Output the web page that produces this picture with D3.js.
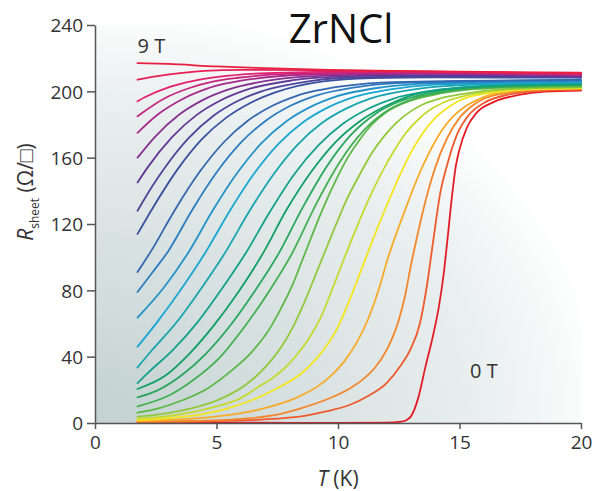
<!DOCTYPE html>
<html>
<head>
<meta charset="utf-8">
<script src="https://cdn.jsdelivr.net/npm/d3@7"></script>
<style>
  body { margin: 0; background: #fff; }
  svg { display: block; }
</style>
</head>
<body>
<div id="chart"></div>
<script>
// tick values
const xTicks = [0, 5, 10, 15, 20];
const yTicks = [0, 40, 80, 120, 160, 200, 240];

// field labels at the two ends of the family
const fieldLabels = ["0 T", "9 T"];

// R_sheet (ohm/sq) vs T (K), one curve per field, from 0 T (first) up to 9 T (last)
const curves = [
  [[1.75,0.3],[4,0.2],[8,0.1],[10,0],[12,0.2],[12.6,0.8],[12.85,2],[13.0,4],[13.3,15],[13.6,34],[13.9,52],[14.15,70],[14.35,90],[14.5,110],[14.7,138],[14.85,155],[15.0,165],[15.3,178],[15.7,187],[16.4,193.5],[17.5,198],[18.5,199.8],[20,200.5]],
  [[1.75,0.6],[4,0.9],[6,1.6],[7.5,2.6],[8.4,3.8],[9.5,7],[10.5,11],[11.2,16],[12,24],[12.55,34],[13,45],[13.37,60],[13.65,82],[13.92,110],[14.2,138],[14.5,156],[14.9,174],[15.4,186],[16,193],[17,198],[18.5,200.5],[20,201]],
  [[1.75,0.8],[4,1.2],[6,2.5],[7.5,5],[8.5,9],[9.5,14],[10.5,21],[11,26],[11.5,33],[12,44],[12.5,62],[12.75,76],[13,95],[13.25,112],[13.5,128],[13.75,142],[14,154],[14.5,172],[15,184],[15.5,191],[16,195.5],[17,199.1],[18.5,201],[20,201.3]],
  [[1.75,1.2],[3,1.8],[4.75,3.5],[6.25,6.5],[7.25,10],[8.25,15],[8.75,18.5],[9.25,23],[9.75,29],[10.25,37],[10.75,48],[11.25,63],[11.75,84],[12,97],[12.25,108],[12.75,128],[13.25,147],[13.75,163],[14.25,176],[14.75,185],[15.25,191],[15.75,195],[16.75,199.5],[18.25,201.2],[20,201.6]],
  [[1.75,1.8],[3,3],[4.5,5.5],[5.5,9],[6.5,14],[7.5,21],[8,25],[8.5,30],[9,37],[9.5,46],[10,58],[10.5,75],[11,94],[11.5,113],[12,131],[12.5,148],[13,163],[13.5,175],[14,184],[14.5,190],[15,194.5],[16,198.5],[17,200.3],[18.5,201.5],[20,201.9]],
  [[1.75,2.6],[3,4.2],[4,6.5],[5,10],[6,15],[6.8,22.5],[7.3,27],[7.8,33],[8.3,41],[8.8,51],[9.3,64],[9.8,82],[10.3,101],[10.8,119],[11.3,136],[11.8,151],[12.3,164],[12.8,175],[13.3,183],[13.8,189],[14.3,193],[15.3,197.5],[16.3,200],[18,201.7],[20,202.2]],
  [[1.75,3.8],[3,6],[4,9],[5,13.5],[5.65,18],[6.15,22.5],[6.65,28.5],[7.15,36],[7.65,45.5],[8.15,58],[8.65,74],[9.15,92],[9.4,101],[9.9,119],[10.4,136],[10.9,150],[11.4,163],[11.9,173],[12.4,181],[12.9,187],[13.4,191.5],[14.15,195.5],[15.15,198.5],[17,201.5],[20,202.6]],
  [[1.75,6.2],[2.65,9],[3.65,14],[4.65,21],[5.65,32],[6.4,42],[7.15,56],[7.65,69],[8.15,84],[8.5,97],[8.9,112],[9.4,130],[9.9,146],[10.4,160],[10.9,171],[11.4,180],[11.9,186.5],[12.65,192.5],[13.65,197],[15,200.5],[17,202.3],[20,203]],
  [[1.75,10],[3.1,17],[4.1,26.5],[5.1,39],[6.1,57],[7.1,78],[8.1,102],[9.1,132],[10.1,158],[11.1,177],[12.1,189],[13.1,195.5],[14.1,199],[16.1,202.3],[20,203.6]],
  [[1.75,15.5],[2.55,19.5],[3.55,28.6],[4.55,41.6],[5.55,58.5],[6.55,79],[7.55,102],[8.55,130],[9.55,155],[10.55,174],[11.55,186.5],[12.55,194],[13.55,198.3],[15.55,202.3],[20,204]],
  [[1.75,20.5],[2.9,28.6],[3.9,42],[4.9,59],[5.9,79],[6.9,102],[7.9,129],[8.9,151.5],[9.9,169.4],[10.9,182],[11.9,190.7],[12.9,197],[14.9,202],[17,203.8],[20,204.4]],
  [[1.75,24],[2.2,30.5],[3.2,44],[4.2,60.4],[5.2,80.5],[6.2,102.4],[7.2,127.4],[8.2,150],[9.2,167.5],[10.2,180.4],[11.2,189.2],[12.2,195.2],[14.2,201.1],[16.2,203.4],[20,204.8]],
  [[1.75,33.5],[2.35,44],[3.35,60.6],[4.35,80.7],[5.35,102.6],[6.35,127.7],[7.35,150],[8.35,168],[9.35,181],[10.35,189.7],[11.35,195.7],[13.35,201.6],[15.35,203.9],[20,205.3]],
  [[1.75,46],[2.55,60.7],[3.55,80.8],[4.55,103],[5.55,128],[6.55,150.4],[7.55,168.3],[8.55,181.2],[9.55,190],[10.55,196],[12.55,202],[14.55,204.3],[20,205.7]],
  [[1.75,63.5],[2.85,82],[3.85,103],[4.85,128.3],[5.85,150.7],[6.85,168.7],[7.85,181.7],[8.85,190.5],[9.85,196.5],[11.85,202.5],[13.85,204.8],[20,206.2]],
  [[1.75,79],[2.4,91.5],[3.0,103.3],[4,128.5],[5,151],[6,169],[7,182],[8,191],[9,197],[11,203],[13,205.2],[20,206.6]],
  [[1.75,91],[2.3,103.5],[3.3,128.8],[4.3,151.3],[5.3,169.3],[6.3,182.4],[7.3,191.3],[8.3,197.3],[10.3,203.3],[12.3,205.6],[20,207]],
  [[1.75,114],[2.39,130],[3.39,152.8],[4.39,171],[5.39,184],[6.39,193],[7.39,199.2],[9.39,206],[11.39,208],[14,208.5],[20,208.2]],
  [[1.75,128],[2.35,142.6],[2.85,153.5],[3.85,171.8],[4.85,185],[5.85,194],[6.85,200],[8.85,206.2],[10.85,208.5],[14,209],[20,208.6]],
  [[1.75,145],[2.16,154],[3.16,172.2],[4.16,185.5],[5.16,194.5],[6.16,200.6],[8.16,206.7],[10.16,209],[13,209.8],[20,209]],
  [[1.75,160],[2.47,172.6],[3.47,186],[4.47,195],[5.47,201],[7.47,207.2],[9.47,209.5],[13,210.5],[20,209.4]],
  [[1.75,175],[2.61,186.3],[3.61,195.4],[4.61,201.6],[6.61,207.7],[8.61,210],[13,211],[20,209.8]],
  [[1.75,185],[2.89,196],[3.89,202],[4.89,206],[5.89,208.2],[7.89,210.5],[12,211.5],[20,210.2]],
  [[1.75,194],[2.05,196.4],[3.05,202.5],[4.05,206.3],[5.05,208.7],[7.05,211],[11,212],[20,210.6]],
  [[1.75,207],[2.5,209],[3.5,211],[4.5,212.3],[6,213],[9,212.8],[13,212],[20,210.8]],
  [[1.75,217],[3,216.5],[5,215],[7,214],[10,212.8],[14,212],[20,211.2]]
];

const W = 596, H = 491;
const x = d3.scaleLinear().domain([0, 20]).range([95, 581]);
const y = d3.scaleLinear().domain([0, 240]).range([423, 25]);

// rainbow: red -> yellow -> green -> cyan -> blue -> purple -> pink -> red
const colour = d3.scaleLinear()
  .domain([0, 1, 2, 3, 4, 5, 7, 10, 13, 15, 17, 19, 21, 23, 25])
  .range(["#e31d25", "#ee5a2d", "#f4862b", "#f7ab28", "#f5e51c", "#c5d92f", "#5cb847",
          "#0f9f66", "#19a6d2", "#2c7dc0", "#3a51a0", "#633796", "#a82a8b", "#e31f70", "#e8203f"]);

const svg = d3.select("#chart").append("svg")
  .attr("width", W).attr("height", H);

// plot background gradient
const defs = svg.append("defs");
const grad = defs.append("radialGradient")
  .attr("id", "bg").attr("cx", 0).attr("cy", 1).attr("r", 1.15).attr("fx", 0).attr("fy", 1);
grad.append("stop").attr("offset", 0).attr("stop-color", "#c3d1d1");
grad.append("stop").attr("offset", 0.4).attr("stop-color", "#d9e2e2");
grad.append("stop").attr("offset", 0.72).attr("stop-color", "#ebf0f0");
grad.append("stop").attr("offset", 0.92).attr("stop-color", "#ffffff");

svg.append("rect")
  .attr("x", x(0)).attr("y", y(240))
  .attr("width", x(20) - x(0)).attr("height", y(0) - y(240))
  .attr("fill", "url(#bg)");

// curves
const line = d3.line()
  .x(d => x(d[0]))
  .y(d => y(d[1]))
  .curve(d3.curveMonotoneX);

svg.append("g")
  .selectAll("path")
  .data(curves)
  .join("path")
  .attr("d", line)
  .attr("fill", "none")
  .attr("stroke", (d, i) => colour(i))
  .attr("stroke-width", 1.8)
  .attr("stroke-linejoin", "round")
  .attr("stroke-linecap", "round");

// axes
const font = "'Open Sans', 'Noto Sans', sans-serif";
const xAxis = svg.append("g")
  .attr("transform", `translate(0,${y(0)})`)
  .call(d3.axisBottom(x).tickValues(xTicks).tickSize(6).tickSizeOuter(0));
const yAxis = svg.append("g")
  .attr("transform", `translate(${x(0)},0)`)
  .call(d3.axisLeft(y).tickValues(yTicks).tickSize(8).tickSizeOuter(0));

[xAxis, yAxis].forEach(g => {
  g.select(".domain").attr("stroke", "#555").attr("stroke-width", 1.5);
  g.selectAll(".tick line").attr("stroke", "#555").attr("stroke-width", 1.5);
  g.selectAll(".tick text")
    .attr("fill", "#333")
    .style("font-family", font)
    .style("font-size", "19px");
});
xAxis.selectAll(".tick text").attr("dy", "0.95em").attr("y", 8);
yAxis.selectAll(".tick text").attr("x", -12).attr("dy", "0.36em");

// title
svg.append("text")
  .attr("x", 341).attr("y", 43)
  .attr("text-anchor", "middle")
  .attr("fill", "#111")
  .style("font-family", font)
  .style("font-size", "40px")
  .text("ZrNCl");

// axis titles
const xt = svg.append("text")
  .attr("x", 338).attr("y", 486)
  .attr("text-anchor", "middle")
  .attr("fill", "#333")
  .style("font-family", font)
  .style("font-size", "21px");
xt.append("tspan").style("font-style", "italic").text("T");
xt.append("tspan").text(" (K)");

const yt = svg.append("text")
  .attr("transform", "translate(33,192) rotate(-90)")
  .attr("text-anchor", "middle")
  .attr("fill", "#333")
  .style("font-family", font)
  .style("font-size", "21px");
yt.append("tspan").style("font-style", "italic").text("R");
yt.append("tspan").attr("dy", 6).style("font-size", "12px").text("sheet");
yt.append("tspan").attr("dy", -6).text(" (Ω/□)");

// field labels
svg.append("text")
  .attr("x", x(1.75)).attr("y", 53)
  .attr("fill", "#333")
  .style("font-family", font)
  .style("font-size", "20px")
  .text(fieldLabels[1]);
svg.append("text")
  .attr("x", 470).attr("y", 378)
  .attr("fill", "#333")
  .style("font-family", font)
  .style("font-size", "20px")
  .text(fieldLabels[0]);
</script>
</body>
</html>
